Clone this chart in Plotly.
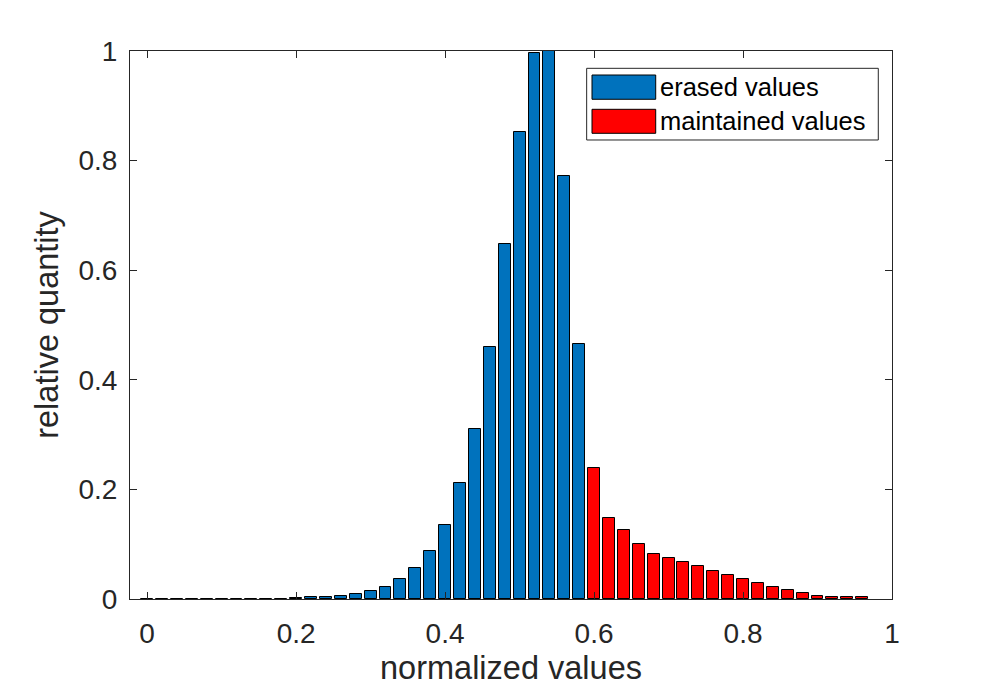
import plotly.graph_objects as go

# ---- data ----
bins_erased = [0.00, 0.02, 0.04, 0.06, 0.08, 0.10, 0.12, 0.14, 0.16, 0.18,
               0.20, 0.22, 0.24, 0.26, 0.28, 0.30, 0.32, 0.34, 0.36, 0.38,
               0.40, 0.42, 0.44, 0.46, 0.48, 0.50, 0.52, 0.54, 0.56, 0.58]
vals_erased = [0.0, 0.0, 0.0, 0.0, 0.0, 0.0, 0.0, 0.0, 0.0, 0.0005,
               0.0025, 0.003, 0.004, 0.006, 0.009, 0.014, 0.022, 0.036, 0.057, 0.088,
               0.135, 0.211, 0.310, 0.460, 0.647, 0.853, 0.996, 1.000, 0.771, 0.465]
bins_kept = [0.60, 0.62, 0.64, 0.66, 0.68, 0.70, 0.72, 0.74, 0.76, 0.78,
             0.80, 0.82, 0.84, 0.86, 0.88, 0.90, 0.92, 0.94, 0.96]
vals_kept = [0.239, 0.147, 0.126, 0.101, 0.083, 0.074, 0.067, 0.0595, 0.052, 0.043,
             0.036, 0.0285, 0.021, 0.016, 0.011, 0.005, 0.003, 0.003, 0.003]
tick_vals = [0, 0.2, 0.4, 0.6, 0.8, 1]
tick_text = ["0", "0.2", "0.4", "0.6", "0.8", "1"]
legend_names = ["erased values", "maintained values"]
x_title = "normalized values"
y_title = "relative quantity"

BLUE = "#0072BD"
RED = "#FF0000"
AX = "#262626"
FONT = "Liberation Sans, Arial, Helvetica, sans-serif"

fig = go.Figure()
fig.add_trace(go.Bar(x=bins_erased, y=vals_erased, width=0.016, name=legend_names[0],
                     marker=dict(color=BLUE, line=dict(color="black", width=1)),
                     showlegend=False))
fig.add_trace(go.Bar(x=bins_kept, y=vals_kept, width=0.016, name=legend_names[1],
                     marker=dict(color=RED, line=dict(color="black", width=1)),
                     showlegend=False))

# custom MATLAB-like legend (paper coordinates)
shapes = [
    dict(type="rect", xref="paper", yref="paper", x0=0.5993, x1=0.982, y0=0.8376, y1=0.9684,
         line=dict(color=AX, width=1), fillcolor="white", layer="above"),
    dict(type="rect", xref="paper", yref="paper", x0=0.6063, x1=0.6899, y0=0.9119, y1=0.9562,
         line=dict(color="black", width=1), fillcolor=BLUE, layer="above"),
    dict(type="rect", xref="paper", yref="paper", x0=0.6063, x1=0.6899, y0=0.8498, y1=0.8936,
         line=dict(color="black", width=1), fillcolor=RED, layer="above"),
]
annotations = [
    dict(xref="paper", yref="paper", x=0.6935, y=0.9343, text=legend_names[0], showarrow=False,
         xanchor="left", yanchor="middle", font=dict(family=FONT, size=25.5, color="black")),
    dict(xref="paper", yref="paper", x=0.6935, y=0.8717, text=legend_names[1], showarrow=False,
         xanchor="left", yanchor="middle", font=dict(family=FONT, size=25.5, color="black")),
]

axis_common = dict(showline=True, linecolor=AX, linewidth=1, mirror="ticks", ticks="inside",
                   ticklen=7, tickcolor=AX, tickwidth=1, showgrid=False, zeroline=False,
                   automargin=False,
                   tickfont=dict(family=FONT, size=28, color=AX))

# page body has an 8px margin, so the figure is 8px smaller and shifted accordingly
fig.update_layout(
    width=981, height=683,
    margin=dict(l=122, r=97, t=43, b=92, autoexpand=False),
    paper_bgcolor="white", plot_bgcolor="white",
    barmode="overlay", bargap=0,
    font=dict(family=FONT, color=AX),
    shapes=shapes, annotations=annotations,
    xaxis=dict(range=[-0.023, 1], tickvals=tick_vals, ticktext=tick_text,
               title=dict(text=x_title, font=dict(family=FONT, size=32.5, color=AX), standoff=8),
               ticklabelstandoff=9, **axis_common),
    yaxis=dict(range=[0, 1], tickvals=tick_vals, ticktext=tick_text,
               title=dict(text=y_title, font=dict(family=FONT, size=32.5, color=AX), standoff=10),
               ticklabelstandoff=6, **axis_common),
)

fig.write_html("out.html")
